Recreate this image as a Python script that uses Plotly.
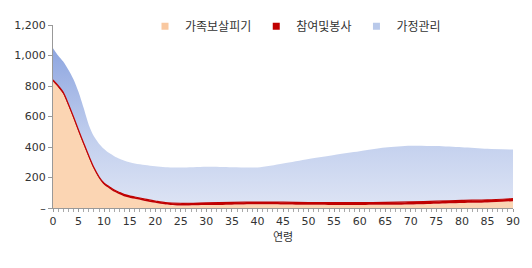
import plotly.graph_objects as go

ages = [0, 1, 2, 3, 4, 5, 6, 7, 8, 9, 10, 11, 12, 13, 14, 16, 18, 20, 22, 25, 30, 35, 40, 45, 50, 55, 60, 65, 70, 75, 80, 85, 90]
# 가족보살피기 (family care)
family_care = [830, 792, 748, 672, 588, 500, 415, 332, 255, 195, 152, 128, 106, 90, 76, 60, 46, 34, 23,
               16, 19, 22, 24, 23, 21, 20, 20, 21, 23, 28, 33, 36, 45]
# 참여및봉사 (participation & volunteering)
volunteer = [10, 10, 10, 10, 10, 10, 10, 10, 10, 10, 10, 12, 12, 12, 12, 12, 12, 12, 12,
             15, 15, 15, 15, 15, 15, 15, 15, 16, 17, 17, 17, 17, 17]
# 가정관리 (household management)
household = [208, 198, 202, 225, 247, 250, 230, 203, 205, 217, 225, 220, 222, 221, 222, 220, 224, 227, 232,
             235, 237, 231, 227, 254, 286, 313, 337, 359, 368, 361, 348, 335, 321]

names = ["가족보살피기", "참여및봉사", "가정관리"]
ytick_vals = [0, 200, 400, 600, 800, 1000, 1200]
ytick_text = ["–", "200", "400", "600", "800", "1,000", "1,200"]
xtick_vals = list(range(0, 91, 5))

font_family = "Noto Sans CJK KR, Noto Sans, sans-serif"
num_font = "DejaVu Sans, Noto Sans CJK KR, sans-serif"

fig = go.Figure()
fig.add_trace(go.Scatter(
    x=ages, y=family_care, stackgroup="s", mode="lines", line=dict(width=0, shape="spline", smoothing=0.8),
    fillcolor="#FBD5B3", name=names[0], showlegend=False, hoverinfo="skip"))
fig.add_trace(go.Scatter(
    x=ages, y=volunteer, stackgroup="s", mode="lines", line=dict(width=1.2, color="#C00000", shape="spline", smoothing=0.8),
    fillcolor="#C00000", name=names[1], showlegend=False, hoverinfo="skip"))
fig.add_trace(go.Scatter(
    x=ages, y=household, stackgroup="s", mode="lines", line=dict(width=0, shape="spline", smoothing=0.8),
    fillcolor="#C5D2EE", name=names[2], showlegend=False, hoverinfo="skip",
    fillgradient=dict(type="vertical", colorscale=[[0, "#DCE3F4"], [0.4, "#C3D0EE"], [1, "#8EA6E0"]])))

legend_colors = ["#F9C8A0", "#C00000", "#B9C9EA"]
for n, c in zip(names, legend_colors):
    fig.add_trace(go.Scatter(x=[None], y=[None], mode="markers", name=n,
                             marker=dict(symbol="square", size=7, color=c)))

fig.update_layout(
    width=532, height=268,
    margin=dict(l=53, r=12, t=14, b=60),
    paper_bgcolor="white", plot_bgcolor="white",
    font=dict(family=font_family, size=11, color="#333"),
    showlegend=True,
    legend=dict(orientation="h", x=0.2, y=1.072, xanchor="left", yanchor="top",
                traceorder="normal",
                font=dict(size=12, color="#333"), itemwidth=30, tracegroupgap=0,
                bgcolor="rgba(0,0,0,0)"),
)
fig.update_xaxes(
    range=[0, 90], tickvals=xtick_vals, showgrid=False, zeroline=False,
    showline=True, linecolor="#999", linewidth=1,
    ticks="outside", ticklen=3, tickcolor="#999",
    tickfont=dict(family=num_font, size=11),
    minor=dict(dtick=1, ticks="outside", ticklen=3, tickcolor="#aaa"),
    title=dict(text="연령", font=dict(size=11), standoff=6),
)
fig.update_yaxes(
    range=[0, 1200], tickvals=ytick_vals, ticktext=ytick_text, showgrid=False, zeroline=False,
    showline=True, linecolor="#999", linewidth=1,
    ticks="outside", ticklen=4, tickcolor="#999",
    tickfont=dict(family=num_font, size=11),
)

fig.write_html("out.html")
